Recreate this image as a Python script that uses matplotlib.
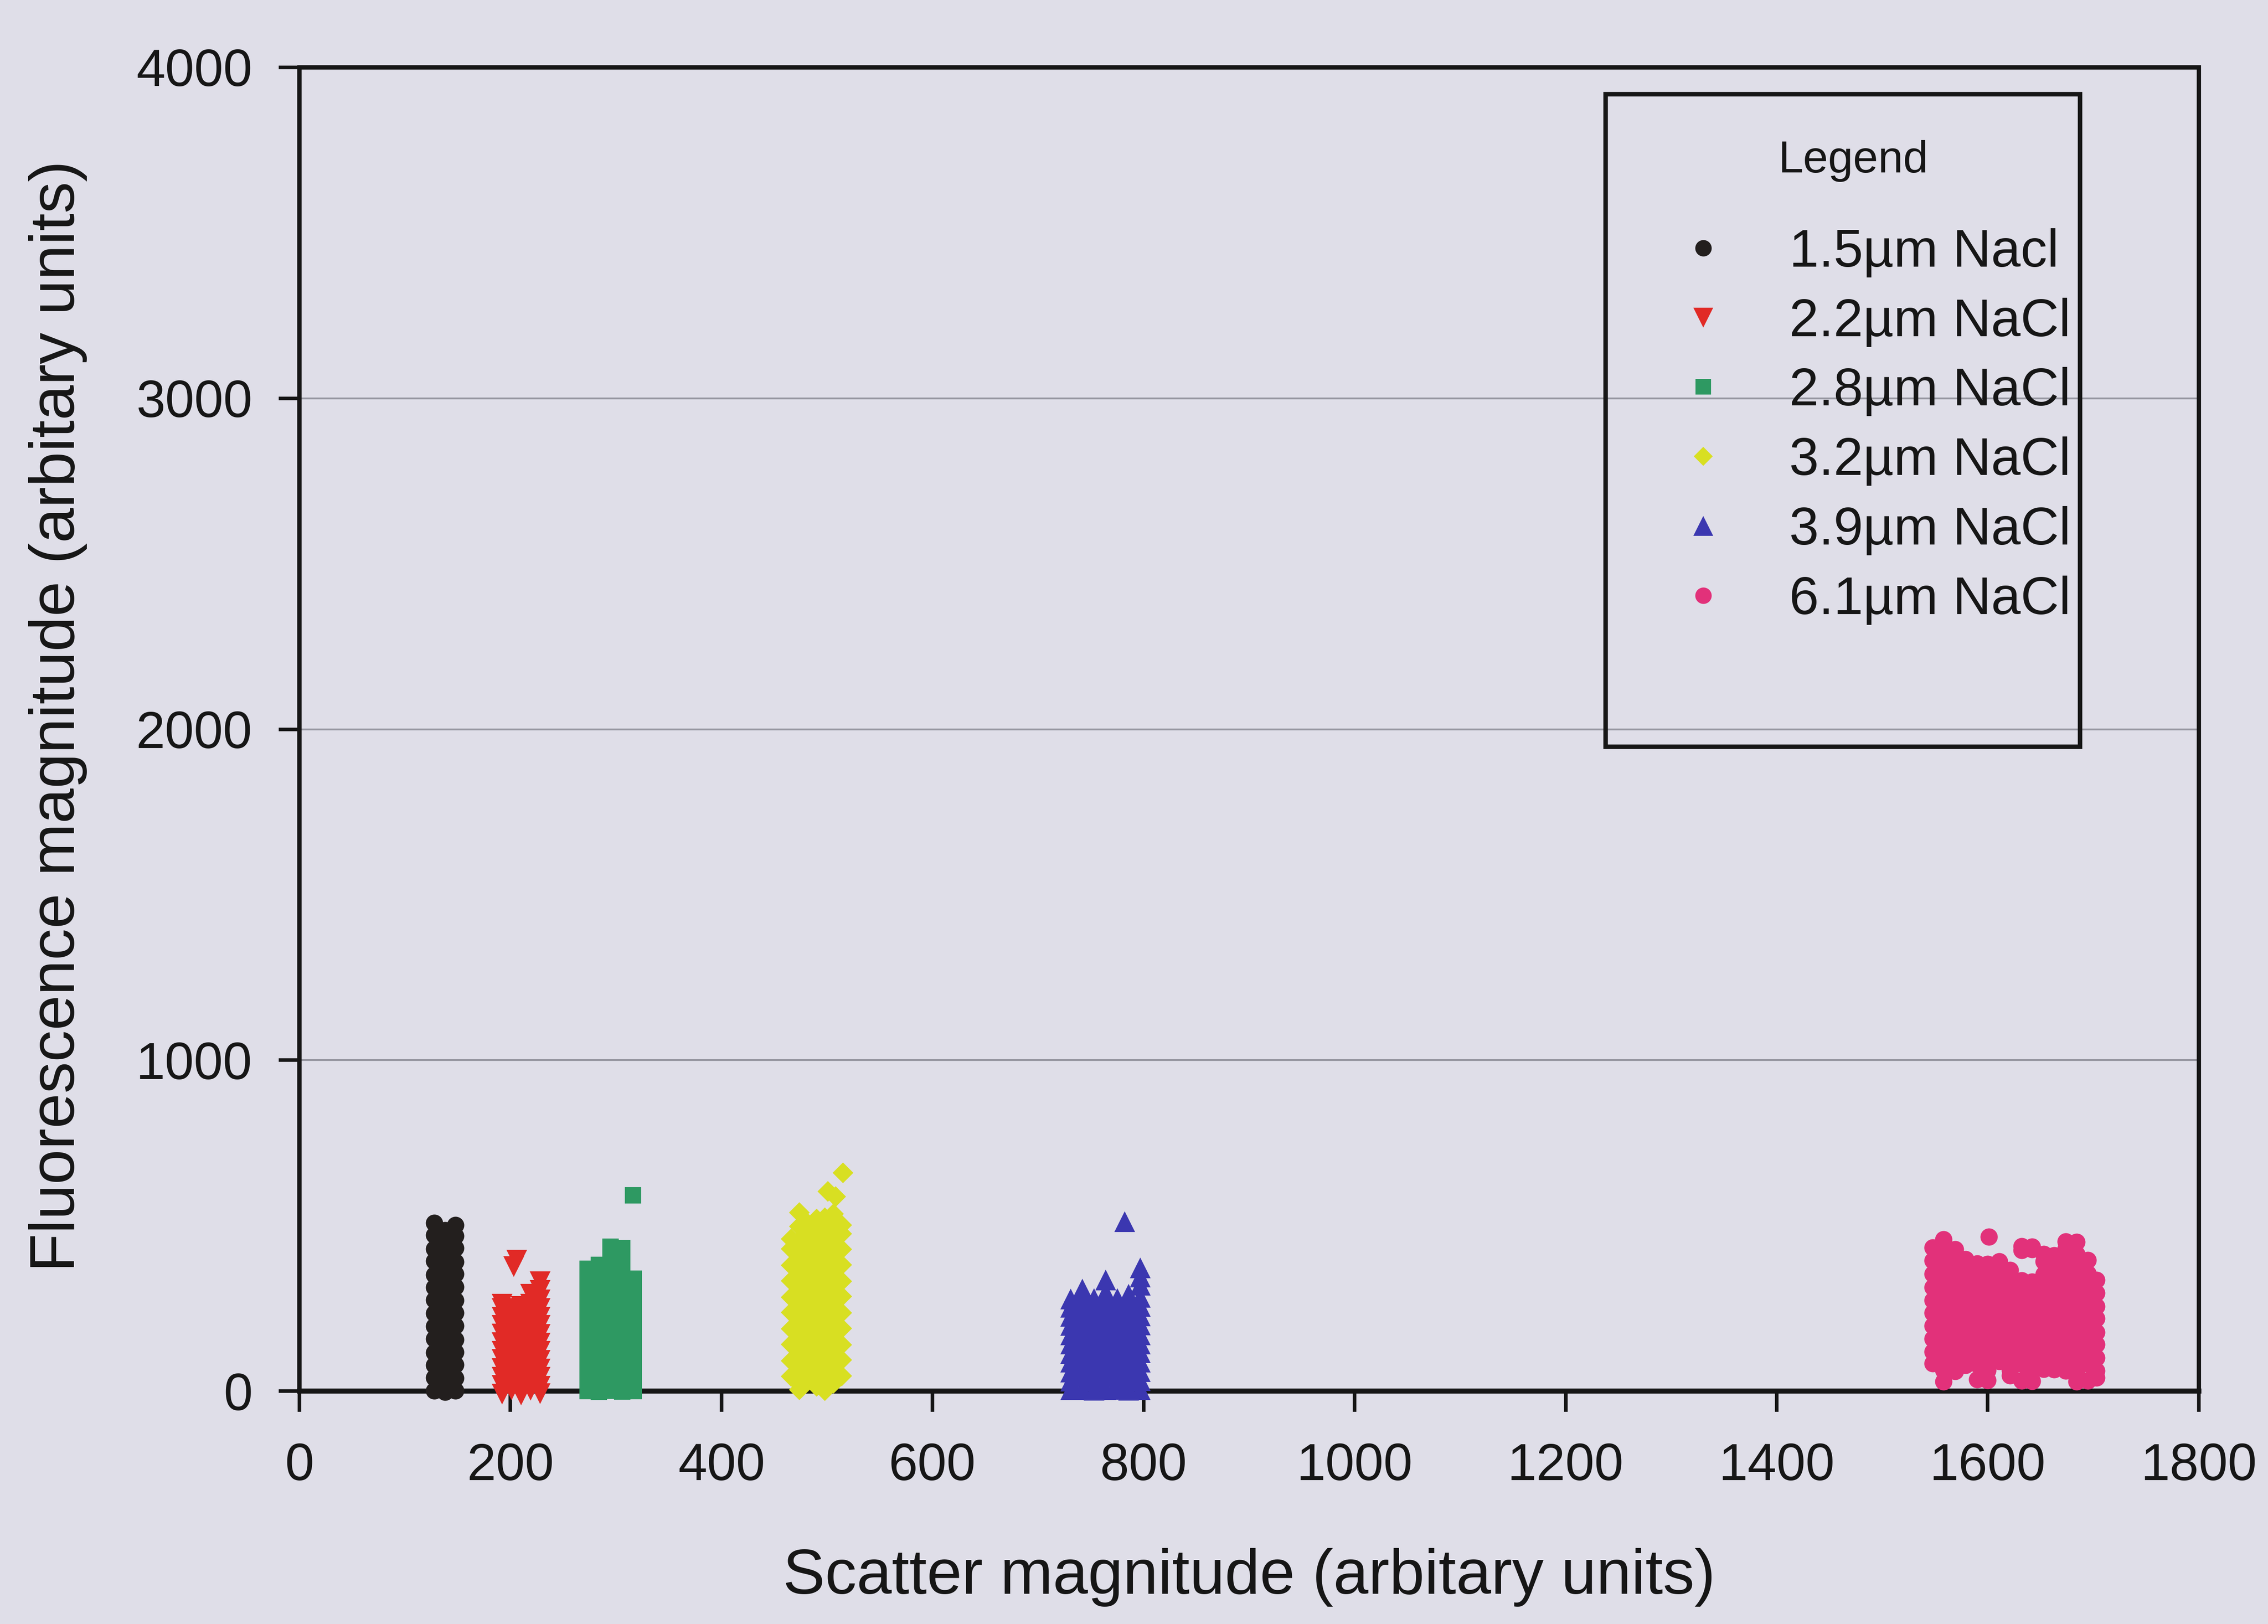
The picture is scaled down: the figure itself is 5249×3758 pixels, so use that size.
import matplotlib
matplotlib.use('Agg')
import matplotlib.pyplot as plt
from matplotlib.patches import Rectangle

plt.rcParams['font.family'] = ['Liberation Sans', 'DejaVu Sans']

# ---- data (scatter, fluorescence) ----
# each cluster is stored as columns of points: x of the column, y values in it
labels = ['1.5µm Nacl', '2.2µm NaCl', '2.8µm NaCl', '3.2µm NaCl', '3.9µm NaCl', '6.1µm NaCl']

black_x = [128, 138, 148]
black_y = [
    [2, 41, 79, 117, 158, 196, 235, 276, 313, 352, 393, 430, 471, 508],
    [-3, 22, 60, 98, 139, 177, 217, 255, 295, 333, 374, 411, 452, 486],
    [1, 39, 80, 118, 156, 197, 237, 274, 315, 354, 391, 432, 469, 502],
]
black_extra = ([], [])

red_x = [192, 201, 210, 219, 228]
red_y = [
    [-9, 17, 42, 68, 95, 120, 146, 173, 198, 224, 250, 262],
    [4, 29, 55, 81, 107, 133, 159, 185, 211, 236, 250],
    [-11, 16, 41, 67, 94, 119, 146, 171, 197, 222, 248, 256],
    [3, 28, 54, 80, 106, 133, 158, 184, 210, 237, 263, 292],
    [-8, 15, 42, 67, 93, 120, 145, 171, 198, 223, 249, 276, 305, 330],
]
red_extra = ([206, 203], [396, 376])

green_x = [273, 284, 295, 306, 317]
green_y = [
    [0, 39, 80, 121, 160, 199, 241, 280, 319, 358, 370],
    [-2, 38, 77, 118, 157, 198, 238, 277, 318, 357, 382],
    [1, 42, 81, 120, 161, 201, 240, 282, 321, 361, 401, 436],
    [-1, 39, 79, 119, 158, 199, 239, 279, 320, 359, 398, 432],
    [0, 40, 81, 120, 159, 200, 241, 279, 320, 340],
]
green_extra = ([316], [592])

yellow_x = [466, 474, 482, 490, 498, 506, 514]
yellow_y = [
    [44, 92, 141, 188, 238, 284, 333, 380, 430, 460],
    [4, 22, 70, 116, 166, 212, 262, 308, 358, 404, 454, 498, 540],
    [32, 46, 94, 140, 190, 236, 286, 332, 382, 428, 478, 506],
    [14, 20, 68, 118, 164, 214, 260, 310, 356, 406, 452, 500, 520],
    [2, 44, 92, 142, 188, 238, 284, 334, 380, 430, 476, 524],
    [24, 70, 116, 166, 212, 262, 308, 358, 404, 454, 500, 536],
    [46, 94, 140, 190, 236, 286, 332, 382, 428, 476, 502],
]
yellow_extra = ([508, 501, 515], [588, 604, 660])

blue_x = [731, 742, 753, 764, 775, 786, 797]
blue_y = [
    [4, 30, 58, 87, 114, 143, 170, 199, 226, 254, 278],
    [4, 44, 72, 100, 129, 156, 185, 212, 241, 268, 289, 308],
    [3, 31, 59, 86, 115, 142, 171, 198, 227, 255, 280],
    [4, 45, 73, 101, 128, 157, 184, 213, 240, 269, 298, 336],
    [5, 30, 58, 88, 115, 143, 172, 199, 228, 254, 280],
    [3, 44, 72, 101, 129, 156, 186, 213, 240, 268, 292],
    [4, 31, 59, 87, 116, 143, 170, 200, 227, 256, 284, 320, 345, 372],
]
blue_extra = ([782], [512])

pink_x = [1548, 1558, 1569, 1579, 1590, 1600, 1611, 1621,
          1632, 1642, 1653, 1663, 1674, 1684, 1695, 1703]
pink_y = [
    [84, 119, 158, 197, 237, 275, 314, 354, 394, 434],
    [29, 63, 101, 141, 178, 219, 256, 297, 334, 375, 412, 438, 458],
    [60, 83, 121, 158, 199, 236, 277, 315, 355, 392, 428],
    [79, 102, 139, 180, 217, 258, 295, 336, 373, 398],
    [35, 81, 121, 160, 197, 238, 275, 316, 353, 385],
    [33, 63, 100, 141, 178, 219, 256, 297, 334, 372, 384],
    [90, 119, 160, 197, 238, 275, 316, 354, 392],
    [47, 63, 100, 141, 180, 217, 258, 295, 336, 366],
    [31, 83, 121, 158, 199, 236, 277, 314, 334, 426, 438],
    [30, 62, 102, 139, 180, 217, 258, 295, 330, 428, 436],
    [67, 82, 121, 160, 197, 238, 275, 316, 353, 392, 414],
    [65, 101, 141, 178, 219, 256, 297, 334, 375, 410],
    [62, 83, 119, 160, 197, 238, 275, 316, 355, 393, 430, 452],
    [29, 63, 102, 139, 180, 217, 258, 295, 336, 373, 414, 450],
    [31, 82, 121, 158, 199, 236, 277, 314, 355, 396],
    [40, 62, 101, 141, 178, 219, 256, 297, 336],
]
pink_extra = ([1601], [466])

x_ticks = [0, 200, 400, 600, 800, 1000, 1200, 1400, 1600, 1800]
y_ticks = [0, 1000, 2000, 3000, 4000]

# ---- styles ----
colors = ['#231f1e', '#e12a26', '#2e9962', '#d8df22', '#3b37b0', '#e2317a']
markers = ['o', 'v', 's', 'D', '^', 'o']
msizes = [9.6, 11.5, 8.9, 8.0, 11.5, 9.6]
bg = '#dfdee8'
ink = '#161616'


def expand(cols, rows, extra):
    xs, ys = [], []
    for x, col in zip(cols, rows):
        xs += [x] * len(col)
        ys += col
    return xs + extra[0], ys + extra[1]


series = [
    expand(black_x, black_y, black_extra),
    expand(red_x, red_y, red_extra),
    expand(green_x, green_y, green_extra),
    expand(yellow_x, yellow_y, yellow_extra),
    expand(blue_x, blue_y, blue_extra),
    expand(pink_x, pink_y, pink_extra),
]

fig = plt.figure(figsize=(5249 / 300, 3758 / 300), dpi=300, facecolor=bg)
ax = fig.add_axes([0.132, 0.1434, 0.8375, 0.8151], facecolor=bg)

for (xs, ys), lab, c, m, s in zip(series, labels, colors, markers, msizes):
    ax.plot(xs, ys, ls='none', marker=m, ms=s, mfc=c, mec='none',
            clip_on=False, zorder=4, label=lab)

ax.set_xlim(0, 1800)
ax.set_ylim(0, 4000)
ax.set_xticks(x_ticks)
ax.set_yticks(y_ticks)

ax.set_axisbelow(True)
ax.yaxis.grid(True, color='#9696a0', lw=1.0)

for side in ['left', 'right', 'top']:
    ax.spines[side].set_linewidth(2.4)
    ax.spines[side].set_color(ink)
ax.spines['bottom'].set_linewidth(2.8)
ax.spines['bottom'].set_color(ink)

ax.tick_params(axis='both', direction='out', length=11.5, width=2.0,
               color=ink, labelcolor=ink, labelsize=29)
ax.tick_params(axis='x', pad=17)
ax.tick_params(axis='y', pad=14.6)

ax.set_xlabel('Scatter magnitude (arbitary units)', fontsize=35, color=ink, va='center')
ax.xaxis.set_label_coords(0.5, -0.1407)
ax.set_ylabel('Fluorescence magnitude (arbitary units)', fontsize=35, color=ink, va='center')
ax.yaxis.set_label_coords(-0.1272, 0.51)

# legend (box drawn separately, it is taller than its entries)
leg = ax.legend(loc='upper left', bbox_to_anchor=(0.7392, 0.8595),
                bbox_transform=fig.transFigure, frameon=False,
                fontsize=29.5, numpoints=1, handlelength=1.0,
                handletextpad=1.12, labelspacing=0.38, borderpad=0,
                borderaxespad=0, markerscale=0.95)
for t in leg.get_texts():
    t.set_color(ink)
fig.text(0.8171, 0.901, 'Legend', fontsize=25, color=ink, ha='center', va='center')
fig.add_artist(Rectangle((0.708, 0.5402), 0.2091, 0.4018, transform=fig.transFigure,
                         fill=False, ec=ink, lw=2.5))

fig.savefig('out.png', dpi=300, facecolor=bg)
